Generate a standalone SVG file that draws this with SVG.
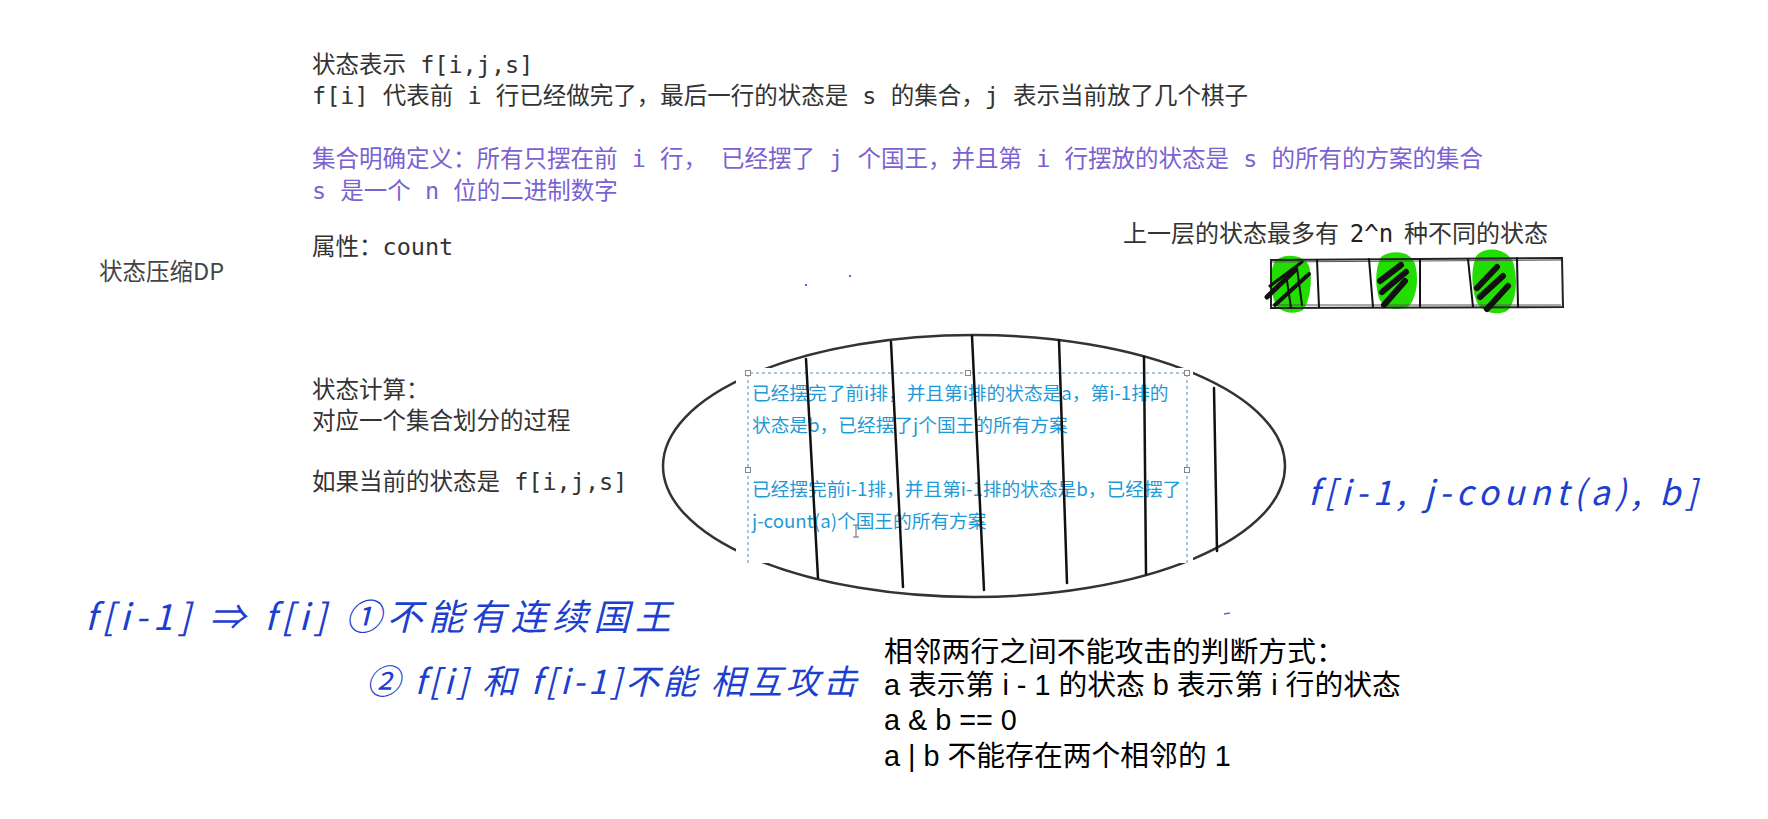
<svg xmlns="http://www.w3.org/2000/svg" width="1768" height="819" viewBox="0 0 1768 819">
<style>
.note{font-family:"DejaVu Sans Mono","Noto Sans CJK SC",monospace;font-size:23.5px;fill:#333;white-space:pre}
.purple{fill:#7b61d1}
.cjk{font-family:"Noto Sans CJK SC",sans-serif}
.box{font-family:"Noto Sans CJK SC",sans-serif;font-size:18.7px;fill:#1f9ad6}
.hand{font-family:"Noto Sans CJK SC","DejaVu Sans",sans-serif;fill:#1d3fd0;font-style:italic;white-space:pre}
.rule{font-family:"Liberation Sans","Noto Sans CJK SC",sans-serif;font-size:28.8px;fill:#000;white-space:pre}
.vl{stroke:#111;stroke-width:2.5;fill:none;stroke-linecap:round}
.hatch{stroke:#111;fill:none;stroke-linecap:round}
.handle{fill:#fff;stroke:#888;stroke-width:1}
.blob{fill:#22dd00}
</style>
<rect width="1768" height="819" fill="#fff"/>

<g id="notes-top">
<text class="note" x="312" y="73">状态表示 f[i,j,s]</text>
<text class="note" x="312" y="104">f[i] 代表前 i 行已经做完了，最后一行的状态是 s 的集合，j 表示当前放了几个棋子</text>
<text class="note purple" x="312" y="167">集合明确定义：所有只摆在前 i 行， 已经摆了 j 个国王，并且第 i 行摆放的状态是 s 的所有的方案的集合</text>
<text class="note purple" x="312" y="199">s 是一个 n 位的二进制数字</text>
<text class="note" x="312" y="255">属性：count</text>
</g>

<g id="title">
<text class="cjk" x="99" y="280" font-size="23.5" fill="#444">状态压缩DP</text>
</g>

<g id="notes-calc">
<text class="note" x="312" y="398">状态计算：</text>
<text class="note" x="312" y="429">对应一个集合划分的过程</text>
<text class="note" x="312" y="490">如果当前的状态是 f[i,j,s]</text>
</g>

<g id="state-row">
<text class="note" x="1123" y="242" style="font-family:'Noto Sans CJK SC',sans-serif;font-size:24px">上一层的状态最多有  <tspan style="font-family:'DejaVu Sans Mono',monospace;fill:#222">2^n</tspan>  种不同的状态</text>
<path class="blob" d="M1275,261 C1285,252 1305,255 1309,266 C1313,280 1310,301 1303,310 C1294,315 1279,313 1275,303 C1270,290 1269,272 1275,261 Z"/>
<path class="blob" d="M1381,257 C1392,249 1411,251 1415,264 C1419,278 1417,297 1409,306 C1398,312 1383,309 1379,298 C1375,286 1375,268 1381,257 Z"/>
<path class="blob" d="M1477,255 C1488,245 1507,249 1513,262 C1518,278 1517,301 1507,311 C1496,316 1481,313 1476,300 C1471,286 1471,266 1477,255 Z"/>
<path d="M1271,260 L1562,258 L1563,307 L1271,308 Z" fill="none" stroke="#222" stroke-width="2"/>
<path d="M1272,262 L1561,260" fill="none" stroke="#555" stroke-width="1"/>
<path d="M1272,305 L1561,305" fill="none" stroke="#555" stroke-width="1"/>
<g class="vl" style="stroke-width:2">
<path d="M1317,260 L1319,307"/>
<path d="M1369,259 L1373,307"/>
<path d="M1420,259 L1420,307"/>
<path d="M1468,259 L1473,307"/>
<path d="M1517,258 L1518,307"/>
</g>
<g class="hatch">
<path d="M1267,297 L1295,270" stroke-width="5"/>
<path d="M1275,305 L1309,274" stroke-width="4"/>
<path d="M1270,286 L1302,262" stroke-width="3"/>
<path d="M1286,274 L1291,308" stroke-width="2"/>
<path d="M1297,268 L1302,305" stroke-width="2"/>
<path d="M1380,281 L1401,265" stroke-width="6"/>
<path d="M1382,292 L1406,272" stroke-width="6"/>
<path d="M1384,305 L1405,281" stroke-width="6"/>
<path d="M1477,288 L1497,267" stroke-width="6"/>
<path d="M1480,297 L1503,276" stroke-width="6"/>
<path d="M1487,309 L1508,286" stroke-width="6"/>
</g>
</g>

<g id="partition">
<ellipse cx="974" cy="466" rx="311" ry="131" fill="none" stroke="#333" stroke-width="2.5"/>
<rect x="736" y="368" width="457" height="195" fill="#fff"/>
<path d="M748,563 L748,373 L1187,373 L1187,563" fill="none" stroke="#5a8ab0" stroke-width="1" stroke-dasharray="3,3"/>
<text class="box" x="752" y="400">已经摆完了前i排，并且第i排的状态是a，第i-1排的</text>
<text class="box" x="752" y="432">状态是b，已经摆了j个国王的所有方案</text>
<text class="box" x="752" y="496">已经摆完前i-1排，并且第i-1排的状态是b，已经摆了</text>
<text class="box" x="752" y="528">j-count(a)个国王的所有方案</text>
<g class="vl">
<path d="M806,359 L818,578"/>
<path d="M891,342 L903,587"/>
<path d="M972,336 L984,590"/>
<path d="M1059,340 L1067,583"/>
<path d="M1144,357 L1146,574"/>
<path d="M1214,388 L1217,551"/>
</g>
<rect class="handle" x="745.5" y="370.5" width="5" height="5"/>
<rect class="handle" x="965.5" y="370.5" width="5" height="5"/>
<rect class="handle" x="1184.5" y="370.5" width="5" height="5"/>
<rect class="handle" x="745.5" y="467.5" width="5" height="5"/>
<rect class="handle" x="1184.5" y="467.5" width="5" height="5"/>
<path d="M853,525 L859,525 M856,525 L856,537 M853,537 L859,537" stroke="#666" stroke-width="1" fill="none"/>
</g>

<g id="handwriting">
<text class="hand" x="85" y="630" font-size="36" textLength="586" lengthAdjust="spacing">f[i-1] ⇒ f[i] ①不能有连续国王</text>
<text class="hand" x="366" y="694" font-size="34" textLength="491" lengthAdjust="spacing">② f[i] 和 f[i-1]不能 相互攻击</text>
<text class="hand" x="1308" y="505" font-size="34" textLength="389" lengthAdjust="spacing">f[i-1, j-count(a), b]</text>
<rect x="805" y="284" width="2" height="2" fill="#4a6fe0"/>
<rect x="849" y="275" width="2" height="2" fill="#4a6fe0"/>
<path d="M1224,614 L1230,613" stroke="#4a6fe0" stroke-width="1.5"/>
</g>

<g id="rules">
<text class="rule" x="884" y="662">相邻两行之间不能攻击的判断方式：</text>
<text class="rule" x="884" y="695">a 表示第 i - 1 的状态 b 表示第 i 行的状态</text>
<text class="rule" x="884" y="730">a &amp; b == 0</text>
<text class="rule" x="884" y="766">a | b 不能存在两个相邻的 1</text>
</g>
</svg>
